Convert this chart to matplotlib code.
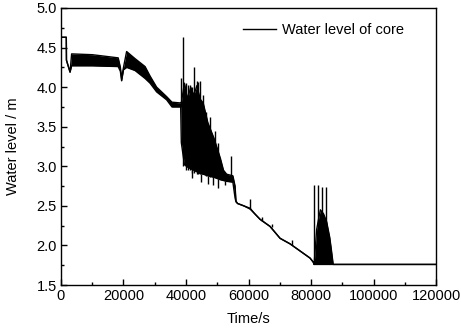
import matplotlib
matplotlib.use('Agg')
import matplotlib.pyplot as plt
from matplotlib.ticker import MultipleLocator

plt.rcParams['font.family'] = ['Liberation Sans', 'DejaVu Sans']

# envelope of the water level (upper / lower edge of the oscillating band)
time_s = [0, 1700, 1750, 2900, 3400, 10000, 18300, 19000, 19400, 20000, 21000,
          23700, 26900, 28500, 30600, 33800, 35500, 38300,
          38500, 39500, 40500, 41500, 42500, 43500, 44500, 45500, 47000, 49000,
          51000, 52000, 53000, 55000, 55700, 56000, 56500, 58500, 60500, 62000,
          63700, 66900, 70100, 73300, 76500, 79700, 80700, 81000,
          81800, 82500, 83000, 84000, 85000, 86000, 86500, 87100, 120000]
level_hi = [4.63, 4.63, 4.34, 4.19, 4.42, 4.41, 4.37, 4.25, 4.11, 4.25, 4.45,
            4.36, 4.26, 4.14, 4.00, 3.88, 3.81, 3.80,
            3.80, 4.05, 3.85, 4.00, 3.90, 4.02, 3.85, 3.80, 3.55, 3.35,
            3.10, 2.95, 2.90, 2.88, 2.75, 2.56, 2.53, 2.50, 2.47, 2.40,
            2.33, 2.24, 2.09, 2.02, 1.93, 1.84, 1.79, 1.76,
            2.20, 2.35, 2.45, 2.40, 2.30, 2.10, 1.95, 1.76, 1.76]
level_lo = [4.63, 4.63, 4.34, 4.19, 4.27, 4.27, 4.26, 4.20, 4.08, 4.22, 4.25,
            4.21, 4.11, 4.05, 3.94, 3.84, 3.75, 3.75,
            3.30, 3.02, 2.99, 2.97, 2.95, 2.93, 2.91, 2.90, 2.88, 2.86,
            2.83, 2.82, 2.81, 2.80, 2.60, 2.55, 2.53, 2.50, 2.46, 2.40,
            2.33, 2.24, 2.09, 2.02, 1.93, 1.84, 1.79, 1.76,
            1.76, 1.76, 1.76, 1.76, 1.76, 1.76, 1.76, 1.76, 1.76]

# narrow spikes sticking out of the band
spike_t = [38400, 39000, 40000, 40500, 41300, 42000, 42600, 43400, 44000, 44500,
           45500, 46400, 47700, 49300, 50300, 54400, 60500, 64200, 67500, 73800,
           81000, 82300, 83500, 84900]
spike_top = [4.12, 4.63, 4.05, 4.03, 4.03, 4.00, 4.25, 4.08, 4.07, 4.08,
             3.90, 3.69, 3.62, 3.44, 3.29, 3.13, 2.59, 2.36, 2.27, 2.07,
             2.76, 2.76, 2.74, 2.74]
spike_base = [3.78, 3.00, 2.95, 2.95, 2.95, 2.92, 2.92, 2.90, 2.90, 2.90,
              2.90, 2.88, 2.87, 2.86, 2.85, 2.82, 2.46, 2.31, 2.23, 2.00,
              1.76, 1.76, 1.76, 1.76]

# small downward teeth on the lower edge
dip_t = [41800, 44800, 47200, 48500, 50300, 52400]
dip_bottom = [2.85, 2.80, 2.78, 2.76, 2.72, 2.76]
dip_top = [2.96, 2.90, 2.88, 2.86, 2.84, 2.82]

fig = plt.figure(figsize=(4.61, 3.29), dpi=100)
ax = fig.add_axes([0.1323, 0.1337, 0.8135, 0.842])

ax.fill_between(time_s, level_lo, level_hi, color='black', lw=0)
ax.plot(time_s, level_hi, color='black', lw=1.0, label='Water level of core')
ax.plot(time_s, level_lo, color='black', lw=1.0)
ax.vlines(spike_t, spike_base, spike_top, color='black', lw=1.0)
ax.vlines(dip_t, dip_bottom, dip_top, color='black', lw=1.0)

ax.set_xlim(0, 120000)
ax.set_ylim(1.5, 5.0)
ax.xaxis.set_major_locator(MultipleLocator(20000))
ax.xaxis.set_minor_locator(MultipleLocator(10000))
ax.yaxis.set_major_locator(MultipleLocator(0.5))
ax.yaxis.set_minor_locator(MultipleLocator(0.25))
ax.tick_params(which='both', direction='in', top=False, right=False, labelsize=10.5)
ax.tick_params(which='major', length=4, width=1, pad=3)
ax.tick_params(which='minor', length=2.5, width=1)
for s in ax.spines.values():
    s.set_linewidth(1.0)

ax.set_xlabel('Time/s', fontsize=10.5, labelpad=6)
ax.set_ylabel('Water level / m', fontsize=10.5, labelpad=12)
ax.legend(loc='upper left', bbox_to_anchor=(0.485, 0.947), frameon=False,
          fontsize=10.5, handlelength=2.3, handletextpad=0.35, borderpad=0,
          borderaxespad=0)

fig.savefig('out.png', dpi=100)
